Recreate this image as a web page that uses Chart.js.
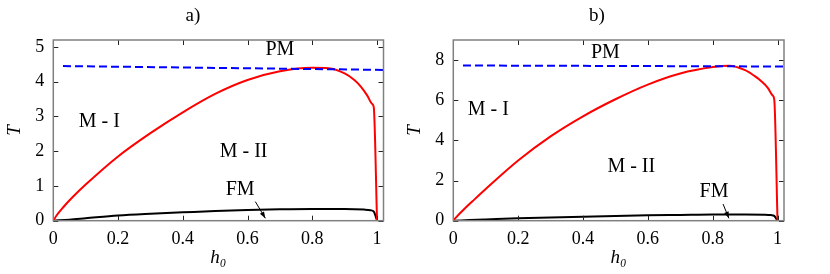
<!DOCTYPE html>
<html lang="en">
<head>
    <meta charset="UTF-8">
    <title>Phase diagram T(h0)</title>
    <style>
        body {
            margin: 0;
            background-color: #ffffff;
            width: 830px;
            height: 274px;
            position: relative;
            overflow: hidden;
        }
        canvas {
            position: absolute;
            top: 0;
        }
        #chartA { left: 0; }
        #chartB { left: 400px; }
    </style>
</head>
<body>
    <canvas id="chartA" width="400" height="274"></canvas>
    <canvas id="chartB" width="430" height="274"></canvas>
    <script src="https://cdn.jsdelivr.net/npm/chart.js"></script>
    <script>
        // h0 grid of each curve
        const hRed = [0, 0.01, 0.03, 0.06, 0.1, 0.2, 0.3, 0.4, 0.5, 0.6, 0.7, 0.8, 0.85, 0.9, 0.93, 0.95, 0.97, 0.985, 0.99, 1.0];
        const hBlack = [0, 0.05, 0.1, 0.2, 0.3, 0.4, 0.5, 0.6, 0.7, 0.8, 0.9, 0.96, 0.98, 0.99, 1.0];
        const hBlue = [0.03, 1.02];

        // panel a)
        const tRedA = [0, 0.15, 0.38, 0.68, 1.04, 1.85, 2.52, 3.12, 3.65, 4.05, 4.3, 4.4, 4.39, 4.24, 4.05, 3.86, 3.6, 3.36, 3.26, 0];
        const tBlackA = [0, 0.03, 0.07, 0.15, 0.2, 0.24, 0.28, 0.31, 0.33, 0.34, 0.34, 0.32, 0.3, 0.26, 0];
        const tBlueA = [4.45, 4.34];
        const yTicksA = [0, 1, 2, 3, 4, 5];

        // panel b)
        const tRedB = [0, 0.19, 0.52, 0.98, 1.58, 3.0, 4.2, 5.2, 6.05, 6.78, 7.33, 7.65, 7.72, 7.5, 7.2, 6.95, 6.62, 6.24, 6.03, 0];
        const tBlackB = [0, 0.03, 0.06, 0.12, 0.16, 0.2, 0.24, 0.27, 0.29, 0.31, 0.31, 0.3, 0.28, 0.24, 0];
        const tBlueB = [7.73, 7.68];
        const yTicksB = [0, 2, 4, 6, 8];

        const xTicks = [0, 0.2, 0.4, 0.6, 0.8, 1];

        const SERIF = "'Liberation Serif', 'DejaVu Serif', serif";

        function toPoints(xs, ys) {
            return xs.map((x, i) => ({ x: x, y: ys[i] }));
        }

        // frame, inner ticks, panel title and region labels
        const notesPlugin = {
            id: 'notes',
            afterDraw(chart, args, opts) {
                const ctx = chart.ctx;
                const area = chart.chartArea;
                const xs = chart.scales.x;
                const ys = chart.scales.y;
                ctx.save();

                // inner tick marks on all four sides
                ctx.strokeStyle = '#222';
                ctx.lineWidth = 1;
                ctx.beginPath();
                xs.ticks.forEach(t => {
                    const px = Math.round(xs.getPixelForValue(t.value)) + 0.5;
                    ctx.moveTo(px, area.bottom);
                    ctx.lineTo(px, area.bottom - 5);
                    ctx.moveTo(px, area.top);
                    ctx.lineTo(px, area.top + 5);
                });
                ys.ticks.forEach(t => {
                    const py = Math.round(ys.getPixelForValue(t.value)) + 0.5;
                    ctx.moveTo(area.left, py);
                    ctx.lineTo(area.left + 5, py);
                    ctx.moveTo(area.right, py);
                    ctx.lineTo(area.right - 5, py);
                });
                ctx.stroke();

                // frame
                ctx.strokeStyle = '#808080';
                ctx.lineWidth = 1.5;
                ctx.strokeRect(area.left, area.top, area.right - area.left, area.bottom - area.top);

                // text
                ctx.fillStyle = '#000';
                ctx.textAlign = 'center';
                ctx.textBaseline = 'middle';
                ctx.font = '19px ' + SERIF;
                ctx.fillText(opts.title, opts.titleX, 16);
                ctx.font = '20px ' + SERIF;
                opts.labels.forEach(l => {
                    ctx.fillText(l.text, xs.getPixelForValue(l.h), ys.getPixelForValue(l.t));
                });

                // arrow pointing at FM line
                const x1 = xs.getPixelForValue(opts.arrow[0]);
                const y1 = ys.getPixelForValue(opts.arrow[1]);
                const x2 = xs.getPixelForValue(opts.arrow[2]);
                const y2 = ys.getPixelForValue(opts.arrow[3]);
                const ang = Math.atan2(y2 - y1, x2 - x1);
                ctx.strokeStyle = '#000';
                ctx.lineWidth = 1;
                ctx.beginPath();
                ctx.moveTo(x1, y1);
                ctx.lineTo(x2, y2);
                ctx.stroke();
                ctx.beginPath();
                ctx.moveTo(x2, y2);
                ctx.lineTo(x2 - 7 * Math.cos(ang - 0.35), y2 - 7 * Math.sin(ang - 0.35));
                ctx.lineTo(x2 - 7 * Math.cos(ang + 0.35), y2 - 7 * Math.sin(ang + 0.35));
                ctx.closePath();
                ctx.fill();

                ctx.restore();
            }
        };

        function makeChart(id, red, black, blue, yMax, yTicks, rightPad, notes) {
            const ctx = document.getElementById(id).getContext('2d');
            return new Chart(ctx, {
                type: 'line',
                data: {
                    datasets: [
                        {
                            data: toPoints(hBlue, blue),
                            borderColor: '#0000ff',
                            borderWidth: 2,
                            borderDash: [8, 4]
                        },
                        {
                            data: toPoints(hRed, red),
                            borderColor: '#ff0000',
                            borderWidth: 2,
                            cubicInterpolationMode: 'monotone'
                        },
                        {
                            data: toPoints(hBlack, black),
                            borderColor: '#000000',
                            borderWidth: 2,
                            cubicInterpolationMode: 'monotone'
                        }
                    ]
                },
                options: {
                    responsive: false,
                    animation: false,
                    events: [],
                    layout: { padding: { top: 40, right: rightPad, left: 0, bottom: 0 } },
                    elements: { point: { radius: 0 } },
                    plugins: {
                        legend: { display: false },
                        tooltip: { enabled: false },
                        notes: notes
                    },
                    scales: {
                        x: {
                            type: 'linear',
                            min: 0,
                            max: 1.02,
                            grid: { display: false, drawTicks: false },
                            border: { display: false },
                            afterBuildTicks: s => { s.ticks = xTicks.map(v => ({ value: v })); },
                            afterFit: s => { s.height = 53.3; },
                            ticks: {
                                padding: 8,
                                color: '#000',
                                font: { family: SERIF, size: 18 },
                                callback: v => String(+v.toFixed(1))
                            },
                            title: {
                                display: true,
                                text: 'h₀',
                                color: '#000',
                                font: { family: SERIF, size: 19, style: 'italic' },
                                padding: { bottom: 5, top: 0 }
                            }
                        },
                        y: {
                            min: 0,
                            max: yMax,
                            grid: { display: false, drawTicks: false },
                            border: { display: false },
                            afterBuildTicks: s => { s.ticks = yTicks.map(v => ({ value: v })); },
                            afterFit: s => { s.width = 53.3; },
                            ticks: {
                                padding: 9,
                                color: '#000',
                                font: { family: SERIF, size: 18 }
                            },
                            title: {
                                display: true,
                                text: 'T',
                                color: '#000',
                                font: { family: SERIF, size: 19, style: 'italic' },
                                padding: { top: 4, bottom: 0 }
                            }
                        }
                    }
                },
                plugins: [notesPlugin]
            });
        }

        makeChart('chartA', tRedA, tBlackA, tBlueA, 5.2, yTicksA, 16.5, {
            title: 'a)',
            titleX: 193,
            labels: [
                { text: 'PM', h: 0.7, t: 4.93 },
                { text: 'M - I', h: 0.142, t: 2.85 },
                { text: 'M - II', h: 0.588, t: 1.98 },
                { text: 'FM', h: 0.577, t: 0.88 }
            ],
            arrow: [0.624, 0.55, 0.655, 0.07]
        });

        makeChart('chartB', tRedB, tBlackB, tBlueB, 9, yTicksB, 46, {
            title: 'b)',
            titleX: 197,
            labels: [
                { text: 'PM', h: 0.469, t: 8.37 },
                { text: 'M - I', h: 0.108, t: 5.53 },
                { text: 'M - II', h: 0.549, t: 2.7 },
                { text: 'FM', h: 0.804, t: 1.45 }
            ],
            arrow: [0.832, 0.83, 0.85, 0.12]
        });
    </script>
</body>
</html>
